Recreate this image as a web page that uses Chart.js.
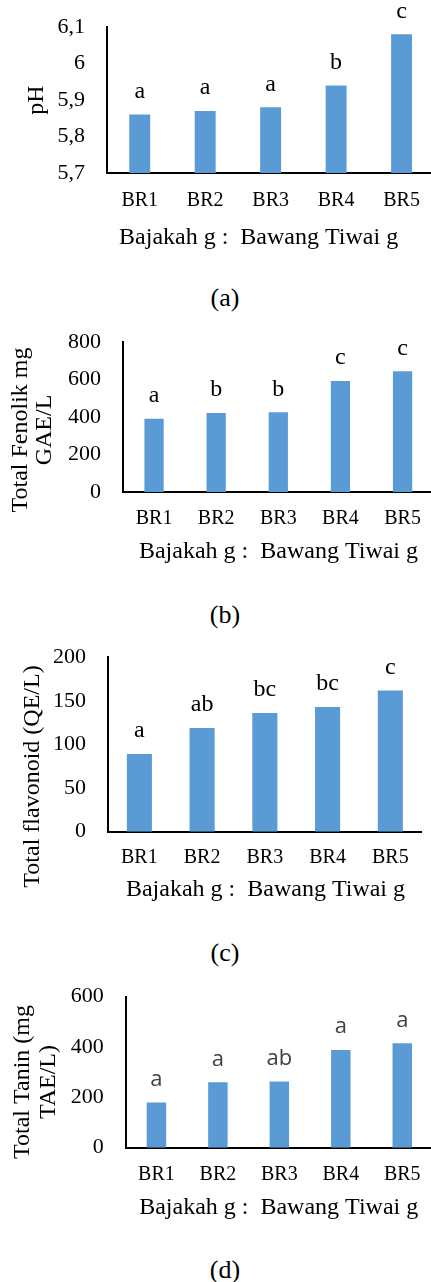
<!DOCTYPE html>
<html>
<head>
<meta charset="utf-8">
<script src="https://cdn.jsdelivr.net/npm/chart.js@4.4.0/dist/chart.umd.min.js"></script>
<style>
html, body { margin: 0; padding: 0; background: #fff; overflow: hidden; }
#page { position: relative; width: 431px; height: 1282px; overflow: hidden; }
canvas { position: absolute; left: 0; }
.cap { position: absolute; left: 0; width: 450px; text-align: center; font: 26px 'Liberation Serif', 'Times New Roman', serif; line-height: 30px; color: #000; }
</style>
</head>
<body>
<div id="page">
  <canvas id="chartA" width="436" height="252" style="top:0px"></canvas>
  <div class="cap" style="top:283px">(a)</div>
  <canvas id="chartB" width="436" height="246" style="top:320px"></canvas>
  <div class="cap" style="top:600px">(b)</div>
  <canvas id="chartC" width="436" height="274" style="top:630px"></canvas>
  <div class="cap" style="top:938px">(c)</div>
  <canvas id="chartD" width="436" height="252" style="top:970px"></canvas>
  <div class="cap" style="top:1255px">(d)</div>
</div>
<script>
// data
const categories = ['BR1', 'BR2', 'BR3', 'BR4', 'BR5'];
const xTitle = 'Bajakah g :  Bawang Tiwai g';

const phValues = [5.86, 5.87, 5.88, 5.94, 6.08];
const phLetters = ['a', 'a', 'a', 'b', 'c'];
const phTickValues = [5.7, 5.8, 5.9, 6.0, 6.1];
const phTickLabels = ['5,7', '5,8', '5,9', '6', '6,1'];

const fenolikValues = [391, 421, 425, 592, 644];
const fenolikLetters = ['a', 'b', 'b', 'c', 'c'];
const fenolikTickValues = [0, 200, 400, 600, 800];
const fenolikTickLabels = ['0', '200', '400', '600', '800'];

const flavonoidValues = [89, 119, 136, 143, 162];
const flavonoidLetters = ['a', 'ab', 'bc', 'bc', 'c'];
const flavonoidTickValues = [0, 50, 100, 150, 200];
const flavonoidTickLabels = ['0', '50', '100', '150', '200'];

const taninValues = [180, 260, 263, 388, 415];
const taninLetters = ['a', 'a', 'ab', 'a', 'a'];
const taninTickValues = [0, 200, 400, 600];
const taninTickLabels = ['0', '200', '400', '600'];

const serif = "'Liberation Serif', 'Times New Roman', serif";
const barBlue = '#5B9BD5';

// letters above bars + axis titles
const textPlugin = {
  id: 'panelText',
  afterDatasetsDraw(chart, args, opts) {
    const ctx = chart.ctx;
    const bars = chart.getDatasetMeta(0).data;
    ctx.save();
    ctx.textAlign = 'center';
    ctx.textBaseline = 'middle';
    ctx.font = opts.letterFont;
    ctx.fillStyle = opts.letterColor;
    bars.forEach((bar, i) => ctx.fillText(opts.letters[i], bar.x, bar.y - 23));

    ctx.fillStyle = '#000';
    ctx.font = '24px ' + serif;
    ctx.fillText(xTitle, opts.xTitlePos[0], opts.xTitlePos[1]);

    // rotated y title, lines go left to right
    ctx.translate(opts.yTitlePos[0], opts.yTitlePos[1]);
    ctx.rotate(-Math.PI / 2);
    opts.yTitle.forEach((line, i) => ctx.fillText(line, 0, i * opts.yTitleLine));
    ctx.restore();
  }
};

function makeChart(id, cfg) {
  new Chart(document.getElementById(id), {
    type: 'bar',
    data: {
      labels: categories,
      datasets: [{
        data: cfg.values,
        backgroundColor: barBlue,
        borderWidth: 0,
        categoryPercentage: 1,
        barPercentage: cfg.barPct
      }]
    },
    options: {
      responsive: false,
      animation: false,
      events: [],
      layout: { autoPadding: false, padding: { top: cfg.padTop, right: cfg.padRight, left: 0, bottom: 0 } },
      plugins: {
        legend: { display: false },
        tooltip: { enabled: false },
        panelText: {
          letters: cfg.letters,
          letterFont: cfg.letterFont || ('24px ' + serif),
          letterColor: cfg.letterColor || '#000',
          xTitlePos: cfg.xTitlePos,
          yTitle: cfg.yTitle,
          yTitlePos: cfg.yTitlePos,
          yTitleLine: cfg.yTitleLine || 0
        }
      },
      scales: {
        x: {
          grid: { display: false, drawTicks: false },
          border: { display: true, color: '#000', width: 2 },
          ticks: { color: '#000', font: { family: serif, size: 20 }, padding: cfg.xPad, maxRotation: 0 },
          afterFit: s => { s.height = cfg.xHeight; }
        },
        y: {
          min: cfg.ticks[0],
          max: cfg.ticks[cfg.ticks.length - 1],
          grid: { display: false, drawTicks: false },
          border: { display: true, color: '#000', width: 2 },
          afterBuildTicks: s => { s.ticks = cfg.ticks.map(v => ({ value: v })); },
          ticks: {
            color: '#000',
            font: { family: serif, size: 22 },
            padding: 22,
            callback: (v, i) => cfg.tickLabels[i]
          },
          afterFit: s => {
            s.width = cfg.yWidth;
            s.paddingTop = 0; // keep tick padding from pushing the plot down
            s.paddingBottom = 0;
          }
        }
      }
    },
    plugins: [textPlugin]
  });
}

makeChart('chartA', {
  values: phValues, letters: phLetters, ticks: phTickValues, tickLabels: phTickLabels,
  barPct: 0.32, padTop: 27, padRight: 1, yWidth: 107, xHeight: 79, xPad: 16,
  xTitlePos: [258.6, 238], yTitle: ['pH'], yTitlePos: [37, 100]
});

makeChart('chartB', {
  values: fenolikValues, letters: fenolikLetters, ticks: fenolikTickValues, tickLabels: fenolikTickLabels,
  barPct: 0.31, padTop: 22, padRight: 1, yWidth: 123, xHeight: 74, xPad: 15,
  xTitlePos: [278.5, 231.7], yTitle: ['Total Fenolik mg', 'GAE/L'], yTitlePos: [21, 110], yTitleLine: 24
});

makeChart('chartC', {
  values: flavonoidValues, letters: flavonoidLetters, ticks: flavonoidTickValues, tickLabels: flavonoidTickLabels,
  barPct: 0.4, padTop: 27.3, padRight: 14.3, yWidth: 108, xHeight: 72.3, xPad: 14,
  xTitlePos: [265.5, 260], yTitle: ['Total flavonoid (QE/L)'], yTitlePos: [32.5, 146.5]
});

makeChart('chartD', {
  values: taninValues, letters: taninLetters, ticks: taninTickValues, tickLabels: taninTickLabels,
  barPct: 0.317, padTop: 26.7, padRight: 3, yWidth: 125.7, xHeight: 74.3, xPad: 15,
  letterFont: "22px 'Open Sans', sans-serif", letterColor: '#404040',
  xTitlePos: [278.7, 238], yTitle: ['Total Tanin (mg', 'TAE/L)'], yTitlePos: [23, 112], yTitleLine: 26
});
</script>
</body>
</html>
